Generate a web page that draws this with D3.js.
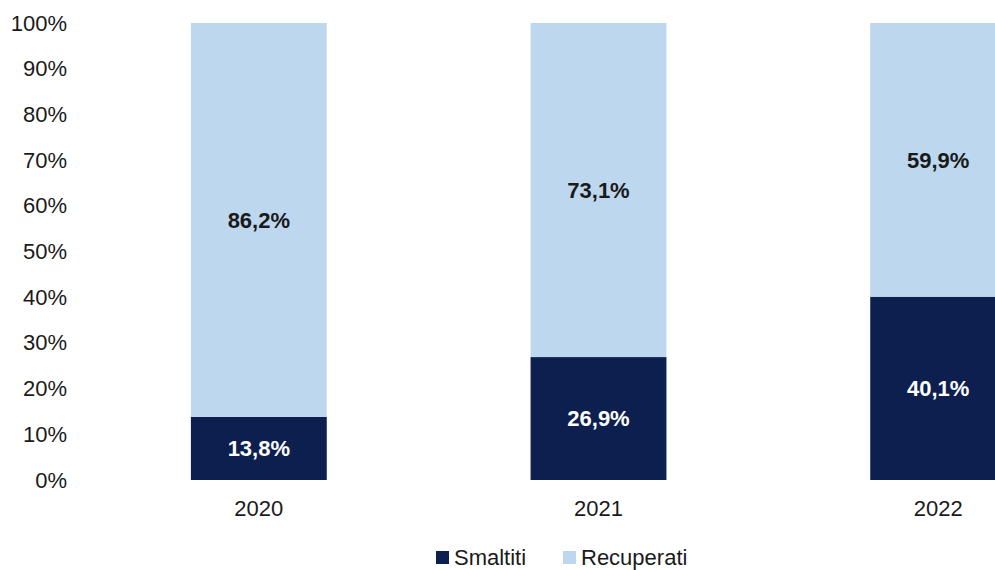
<!DOCTYPE html>
<html>
<head>
<meta charset="utf-8">
<script src="https://cdn.jsdelivr.net/npm/d3@7"></script>
<style>
  html, body { margin: 0; padding: 0; background: #fff; overflow: hidden; }
  svg { display: block; font-family: "Liberation Sans", Arial, sans-serif; }
</style>
</head>
<body>
<svg id="chart" width="995" height="570"></svg>
<script>
// Years on the x axis
const years = ["2020", "2021", "2022"];
// Share of waste disposed (Smaltiti) and recovered (Recuperati), in percent
const smaltiti = [13.8, 26.9, 40.1];
const recuperati = [86.2, 73.1, 59.9];
// Y axis ticks
const yTicks = [0, 10, 20, 30, 40, 50, 60, 70, 80, 90, 100];
const seriesNames = ["Smaltiti", "Recuperati"];

const colors = { Smaltiti: "#0c1f4f", Recuperati: "#bdd7ee" };

const svg = d3.select("#chart");
const fmt = v => d3.format(".1f")(v).replace(".", ",") + "%";

const x = d3.scaleBand().domain(years).range([89, 1108]).paddingInner(0.6).paddingOuter(0.3);
const y = d3.scaleLinear().domain([0, 100]).range([480, 23]);

const rows = years.map((yr, i) => ({ year: yr, Smaltiti: smaltiti[i], Recuperati: recuperati[i] }));
const stacked = d3.stack().keys(seriesNames)(rows);

// Y axis labels
const yAxis = d3.axisLeft(y).tickValues(yTicks).tickFormat(d => d + "%").tickSize(0).tickPadding(0);
const gy = svg.append("g").attr("transform", "translate(67,0)").call(yAxis);
gy.select(".domain").remove();
gy.selectAll("text").attr("font-size", 22).attr("fill", "#1a1a1a")
  .attr("font-family", "Liberation Sans, Arial, sans-serif");

// Stacked bars
const layers = svg.append("g").selectAll("g").data(stacked).join("g")
  .attr("fill", d => colors[d.key]);
layers.selectAll("rect").data(d => d).join("rect")
  .attr("x", d => x(d.data.year))
  .attr("width", x.bandwidth())
  .attr("y", d => y(d[1]))
  .attr("height", d => y(d[0]) - y(d[1]));

// Value labels centred in each segment
stacked.forEach(layer => {
  svg.append("g").selectAll("text").data(layer).join("text")
    .attr("x", d => x(d.data.year) + x.bandwidth() / 2)
    .attr("y", d => (y(d[0]) + y(d[1])) / 2)
    .attr("dy", "0.36em")
    .attr("text-anchor", "middle")
    .attr("font-size", 22)
    .attr("font-weight", "bold")
    .attr("fill", layer.key === "Smaltiti" ? "#ffffff" : "#1a1a1a")
    .text(d => fmt(d.data[layer.key]));
});

// X axis labels
const xAxis = d3.axisBottom(x).tickSize(0).tickPadding(0);
const gx = svg.append("g").attr("transform", "translate(0,508)").call(xAxis);
gx.select(".domain").remove();
gx.selectAll("text").attr("font-size", 22).attr("fill", "#1a1a1a").attr("dy", "0.36em")
  .attr("font-family", "Liberation Sans, Arial, sans-serif");

// Legend
const legendX = [436, 563];
const legend = svg.append("g").selectAll("g").data(seriesNames).join("g")
  .attr("transform", (d, i) => `translate(${legendX[i]},551)`);
legend.append("rect").attr("width", 13).attr("height", 13).attr("fill", d => colors[d]);
legend.append("text").attr("x", 18).attr("y", 6.5).attr("dy", "0.36em")
  .attr("font-size", 22).attr("fill", "#1a1a1a").text(d => d);
</script>
</body>
</html>
